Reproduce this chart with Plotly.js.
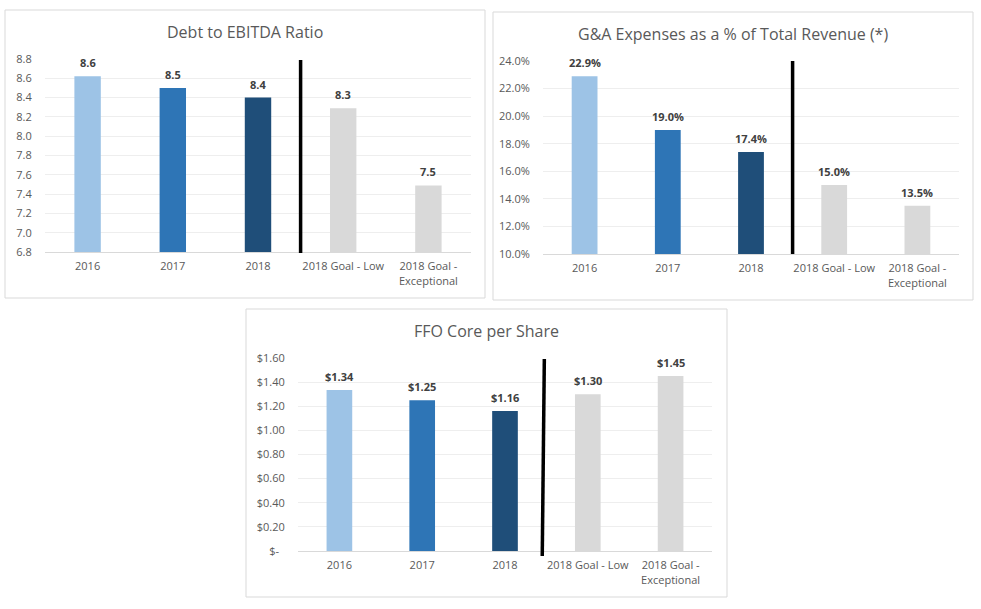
<!DOCTYPE html>
<html><head><meta charset="utf-8">
<script src="https://cdn.plot.ly/plotly-3.0.1.min.js"></script>
<style>html,body{margin:0;padding:0;background:#fff;}#chart{width:981px;height:609px;}</style>
</head><body><div id="chart"></div>
<script>
// ---- data ----
const categories = ['2016', '2017', '2018', '2018 Goal - Low', '2018 Goal -<br>Exceptional'];
const debtToEbitda = [8.62, 8.50, 8.40, 8.29, 7.49];
const debtLabels = ['8.6', '8.5', '8.4', '8.3', '7.5'];
const gaPercent = [22.9, 19.0, 17.4, 15.0, 13.5];
const gaLabels = ['22.9%', '19.0%', '17.4%', '15.0%', '13.5%'];
const ffoPerShare = [1.335, 1.25, 1.16, 1.30, 1.45];
const ffoLabels = ['$1.34', '$1.25', '$1.16', '$1.30', '$1.45'];
const ffoTickVals = [0, 0.2, 0.4, 0.6, 0.8, 1.0, 1.2, 1.4, 1.6];
const ffoTickText = ['$-\u00a0\u00a0', '$0.20', '$0.40', '$0.60', '$0.80', '$1.00', '$1.20', '$1.40', '$1.60'];
const titles = ['Debt to EBITDA Ratio', 'G&A Expenses as a % of Total Revenue (*)', 'FFO Core per Share'];
const barColors = ['#9DC3E6', '#2E75B6', '#1F4E79', '#D9D9D9', '#D9D9D9'];

// ---- layout helpers (pixel -> paper) ----
const W = 981, H = 609;
const px = v => v / W;
const py = v => 1 - v / H;

const FONT = '"Open Sans", "Noto Sans", sans-serif';
const tickFont = {family: FONT, size: 11, color: '#595959'};

function bar(x, y, xa, ya) {
  return {type: 'bar', x: x, y: y, xaxis: xa, yaxis: ya,
    marker: {color: barColors, line: {width: 0}}, hoverinfo: 'skip', showlegend: false};
}
const traces = [
  bar(categories, debtToEbitda, 'x', 'y'),
  bar(categories, gaPercent, 'x2', 'y2'),
  bar(categories, ffoPerShare, 'x3', 'y3')
];

function xaxis(dom, anchor) {
  return {domain: dom, anchor: anchor, type: 'category', categoryorder: 'array', categoryarray: categories,
    range: [-0.5, categories.length - 0.5],
    tickfont: tickFont, ticks: 'outside', ticklen: 4, tickcolor: 'rgba(0,0,0,0)',
    showline: true, linecolor: '#d9d9d9', linewidth: 1, showgrid: false, fixedrange: true};
}
function yaxis(dom, anchor, extra) {
  return Object.assign({domain: dom, anchor: anchor, tickfont: tickFont, ticks: 'outside', ticklen: 10,
    tickcolor: 'rgba(0,0,0,0)', showgrid: true, gridcolor: '#eeeeee', gridwidth: 1,
    zeroline: false, showline: false, fixedrange: true}, extra);
}

const annotations = [];
function addLabels(xa, ya, vals, labels) {
  vals.forEach((v, i) => annotations.push({xref: xa, yref: ya, x: i, y: v, text: '<b>' + labels[i] + '</b>',
    showarrow: false, yanchor: 'bottom', yshift: 4, font: {family: FONT, size: 11, color: '#404040'}}));
}
addLabels('x', 'y', debtToEbitda, debtLabels);
addLabels('x2', 'y2', gaPercent, gaLabels);
addLabels('x3', 'y3', ffoPerShare, ffoLabels);

const titlePos = [[245, 32], [733, 34], [486, 331]];
titles.forEach((t, i) => annotations.push({xref: 'paper', yref: 'paper', x: px(titlePos[i][0]), y: py(titlePos[i][1]),
  xanchor: 'center', yanchor: 'middle', showarrow: false, text: t, font: {family: FONT, size: 16, color: '#595959'}}));

const boxes = [[5, 10, 485, 298], [493, 12, 973, 300], [246, 309, 727, 597]];
const shapes = boxes.map(b => ({type: 'rect', xref: 'paper', yref: 'paper', x0: px(b[0]), x1: px(b[2]), y0: py(b[3]), y1: py(b[1]),
  line: {color: '#d9d9d9', width: 1}, fillcolor: 'rgba(0,0,0,0)', layer: 'below'}));
shapes.push({type: 'line', xref: 'x', yref: 'paper', x0: 2.5, x1: 2.5, y0: py(253), y1: py(60), line: {color: '#000', width: 3.5}});
shapes.push({type: 'line', xref: 'x2', yref: 'paper', x0: 2.5, x1: 2.5, y0: py(254), y1: py(61), line: {color: '#000', width: 3.5}});
shapes.push({type: 'line', xref: 'x3', yref: 'paper', x0: 2.45, x1: 2.475, y0: py(556), y1: py(359), line: {color: '#000', width: 3.5}});

const layout = {
  width: W, height: H, margin: {l: 0, r: 0, t: 0, b: 0}, paper_bgcolor: '#fff', plot_bgcolor: 'rgba(0,0,0,0)',
  bargap: 0.69, showlegend: false, font: {family: FONT},
  xaxis: xaxis([px(45), px(471)], 'y'),
  yaxis: yaxis([py(252), py(59)], 'x', {range: [6.8, 8.8], dtick: 0.2, tickformat: '.1f'}),
  xaxis2: xaxis([px(543), px(959)], 'y2'),
  yaxis2: yaxis([py(254), py(61)], 'x2', {range: [10, 24], dtick: 2, tickformat: '.1f', ticksuffix: '%'}),
  xaxis3: xaxis([px(298), px(712)], 'y3'),
  yaxis3: yaxis([py(551), py(358)], 'x3', {range: [0, 1.6], tickvals: ffoTickVals, ticktext: ffoTickText}),
  annotations: annotations, shapes: shapes
};
Plotly.newPlot('chart', traces, layout, {displayModeBar: false, staticPlot: true});
</script></body></html>
